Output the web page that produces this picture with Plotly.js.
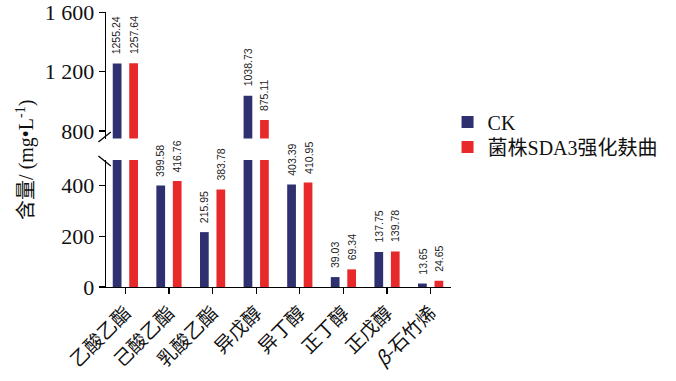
<!DOCTYPE html>
<html>
<head>
<meta charset="utf-8">
<script src="https://cdn.plot.ly/plotly-3.0.1.min.js"></script>
<style>html,body{margin:0;padding:0;background:#fff;}#chart{width:676px;height:381px;}</style>
</head>
<body>
<div id="chart"></div>
<script>
const categories = ['乙酸乙酯', '己酸乙酯', '乳酸乙酯', '异戊醇', '异丁醇', '正丁醇', '正戊醇', '<i>β</i>-石竹烯'];
const ckValues = [1255.24, 399.58, 215.95, 1038.73, 403.39, 39.03, 137.75, 13.65];
const sdaValues = [1257.64, 416.76, 383.78, 875.11, 410.95, 69.34, 139.78, 24.65];
const seriesNames = ['CK', '菌株SDA3强化麸曲'];
const lowerTicks = [0, 200, 400];
const lowerTickText = ['0', '200', '400'];
const upperTicks = [800, 1200, 1600];
const upperTickText = ['800', '1 200', '1 600'];
const lowerRange = [0, 500];
const upperRange = [750, 1602];

const navy = '#2e3070';
const red = '#e8292b';
const serif = 'Liberation Serif, Noto Sans CJK SC, serif';
const cjk = 'Noto Sans CJK SC, Liberation Serif, sans-serif';

function barTrace(vals, name, color, yaxis, showlegend, legend) {
  return {
    type: 'bar', x: categories, y: vals, name: name, yaxis: yaxis, xaxis: 'x',
    marker: {color: color, line: {width: 0}}, showlegend: showlegend, legend: legend, hoverinfo: 'none'
  };
}

const data = [
  barTrace(ckValues, seriesNames[0], navy, 'y', true, 'legend'),
  barTrace(sdaValues, seriesNames[1], red, 'y', true, 'legend2'),
  barTrace(ckValues, seriesNames[0], navy, 'y2', false, 'legend'),
  barTrace(sdaValues, seriesNames[1], red, 'y2', false, 'legend')
];

const annotations = [];
[[ckValues, -8.5], [sdaValues, 8.5]].forEach(([vals, dx]) => {
  vals.forEach((v, i) => {
    const upper = v > lowerRange[1];
    annotations.push({
      x: i, y: v, xref: 'x', yref: upper ? 'y2' : 'y',
      xshift: dx, yshift: 7, text: v.toFixed(2), showarrow: false,
      textangle: -90, xanchor: 'center', yanchor: 'bottom',
      font: {family: 'Liberation Sans, Arial, sans-serif', size: 10.5, color: '#222'}
    });
  });
});
annotations.push({
  xref: 'paper', yref: 'paper', x: -0.232, y: 0.462, xanchor: 'center', yanchor: 'middle',
  text: '含量/ (mg•L<sup>-1</sup>)', showarrow: false, textangle: -90,
  font: {family: serif, size: 20, color: '#111'}
});

const axisLine = {showline: true, linecolor: '#000', linewidth: 1.3, ticks: 'outside', ticklen: 6, tickcolor: '#000', tickwidth: 1.3, showgrid: false, zeroline: false};
const legendBase = {xanchor: 'left', yanchor: 'middle', bgcolor: 'rgba(0,0,0,0)', borderwidth: 0,
  font: {family: serif, size: 20, color: '#111'}, itemwidth: 30};

const layout = {
  width: 676, height: 381,
  margin: {l: 106, r: 214, t: 12, b: 94},
  paper_bgcolor: '#fff', plot_bgcolor: '#fff',
  barmode: 'group', bargap: 0.244, bargroupgap: 0.47,
  showlegend: true,
  legend: Object.assign({}, legendBase, {x: 0.99, y: (287 - 122) / 275}),
  legend2: Object.assign({}, legendBase, {x: 0.99, y: (287 - 147) / 275}),
  xaxis: Object.assign({}, axisLine, {
    type: 'category', anchor: 'y', range: [-0.444, 7.467], tickangle: -45,
    tickfont: {family: cjk, size: 19, color: '#111'}
  }),
  yaxis: Object.assign({}, axisLine, {
    domain: [0, 0.462], range: lowerRange, anchor: 'x',
    tickvals: lowerTicks, ticktext: lowerTickText,
    tickfont: {family: serif, size: 22, color: '#111'}
  }),
  yaxis2: Object.assign({}, axisLine, {
    domain: [0.54, 1], range: upperRange, anchor: 'x',
    tickvals: upperTicks, ticktext: upperTickText,
    tickfont: {family: serif, size: 22, color: '#111'}
  }),
  annotations: annotations,
  shapes: [
    {type: 'line', xref: 'paper', yref: 'paper', x0: -0.022, x1: 0.014, y0: (287-142)/275, y1: (287-132)/275, line: {color: '#000', width: 1.3}},
    {type: 'line', xref: 'paper', yref: 'paper', x0: -0.022, x1: 0.014, y0: (287-156)/275, y1: (287-166)/275, line: {color: '#000', width: 1.3}}
  ]
};

Plotly.newPlot('chart', data, layout, {displayModeBar: false, staticPlot: true});
</script>
</body>
</html>
